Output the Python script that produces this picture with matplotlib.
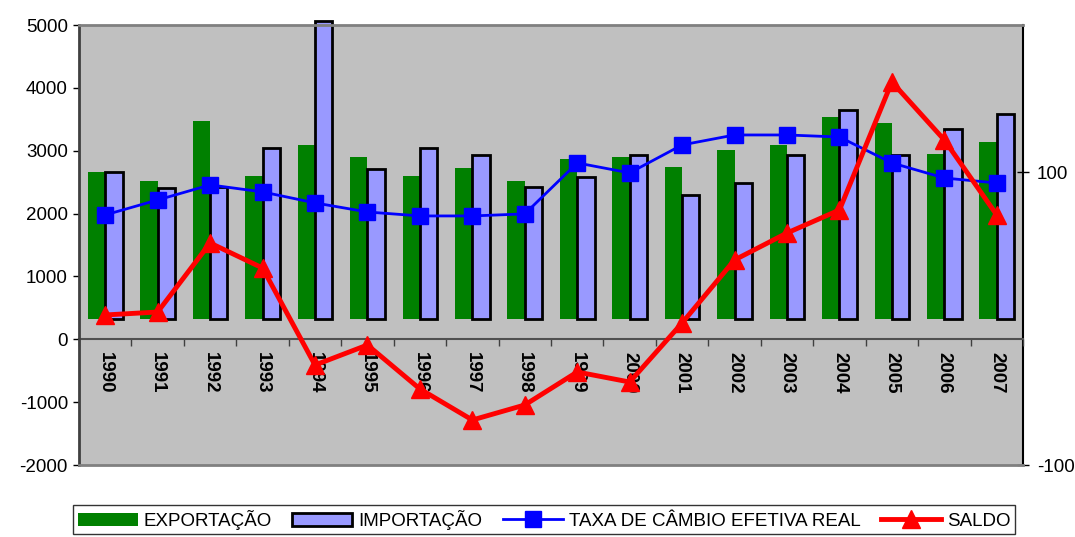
import numpy as np
import matplotlib.pyplot as plt

plt.rcParams['font.family'] = ['Liberation Sans', 'DejaVu Sans']
plt.rcParams['axes.unicode_minus'] = False

years = ['1990', '1991', '1992', '1993', '1994', '1995', '1996', '1997', '1998',
         '1999', '2000', '2001', '2002', '2003', '2004', '2005', '2006', '2007']

# indices (1990 = 100), right axis
exportacao = [100, 94, 135, 97.4, 118.6, 110.4, 97.4, 102.9, 94, 109,
              110.4, 103.6, 115.2, 118.6, 137.7, 133.6, 112.4, 120.6]
importacao = [100, 89.2, 89.9, 116.5, 203, 102.2, 116.5, 111.7, 89.9, 96.7,
              111.7, 84.4, 92.6, 111.7, 142.5, 111.7, 129.5, 139.7]
# real effective exchange rate (2000 = 100), right axis
taxa = [70.8, 81, 91.3, 86.5, 79, 72.8, 70.1, 70.1, 71.5, 106.3,
        99.5, 118.6, 125.4, 125.4, 124, 106.3, 96, 92.6]
# balance, left axis
saldo = [387, 434, 1532, 1134, -410, -91, -790, -1284, -1045, -520,
         -680, 260, 1262, 1691, 2057, 4094, 3171, 1977]

x = np.arange(len(years))

fig = plt.figure(figsize=(10.75, 5.37), dpi=100)
ax = fig.add_axes([79/1075, 1 - 465/537, (1023 - 79)/1075, (465 - 25)/537])
ax2 = ax.twinx()

ax.set_zorder(ax2.get_zorder() + 1)
ax.patch.set_visible(False)
ax2.patch.set_visible(True)
ax2.patch.set_facecolor('#c0c0c0')

w = 0.33
b1 = ax2.bar(x - w/2, exportacao, w, color='#008000', label='EXPORTAÇÃO', zorder=2)
b2 = ax2.bar(x + w/2, importacao, w, color='#9999ff', edgecolor='black',
             linewidth=2, label='IMPORTAÇÃO', zorder=3)
for p in b2:
    p.set_clip_on(False)
l1, = ax2.plot(x, taxa, color='#0000ff', lw=2, marker='s', markersize=11,
               label='TAXA DE CÂMBIO EFETIVA REAL', zorder=4)
l2, = ax.plot(x, saldo, color='#ff0000', lw=3.5, marker='^', markersize=13,
              label='SALDO', zorder=5)

ymin, ymax = -2000, 5000
ax.set_ylim(ymin, ymax)
ax.set_yticks(np.arange(-2000, 5001, 1000))
ax2.set_ylim(-100, 200.5)
ax2.set_yticks([-100, 100])
ax.set_xlim(-0.5, len(years) - 0.5)

ax.tick_params(axis='y', labelsize=13.5, length=4, width=1, direction='out', pad=4)
ax2.tick_params(axis='y', labelsize=13.5, length=8, width=1, direction='inout', pad=6)
ax.set_xticks([])

for s in ['top', 'bottom']:
    ax.spines[s].set_color('#808080')
    ax.spines[s].set_linewidth(2)
    ax2.spines[s].set_visible(False)
ax.spines['left'].set_color('#404040')
ax.spines['left'].set_linewidth(2)
ax.spines['right'].set_visible(False)
ax2.spines['left'].set_visible(False)
ax2.spines['right'].set_color('black')
ax2.spines['right'].set_linewidth(1.5)

# category axis crossing at saldo = 0
zero_frac = (0 - ymin) / (ymax - ymin)
sec = ax.secondary_xaxis(zero_frac)
sec.set_xticks(x, labels=years)
sec.set_xticks(np.arange(len(years) + 1) - 0.5, minor=True)
sec.tick_params(axis='x', which='major', length=0, pad=9, labelsize=13.5,
                labelrotation=270)
sec.tick_params(axis='x', which='minor', length=5, width=1, direction='out',
                color='#404040')
sec.spines['bottom'].set_color('#505050')
sec.spines['bottom'].set_linewidth(1.5)
for lab in sec.get_xticklabels():
    lab.set_fontweight('bold')
    lab.set_va('top')

leg = fig.legend([b1, b2, l1, l2],
                 ['EXPORTAÇÃO', 'IMPORTAÇÃO', 'TAXA DE CÂMBIO EFETIVA REAL', 'SALDO'],
                 loc='upper left', ncol=4,
                 bbox_to_anchor=(73/1075, 1 - 505/537 - 0.1, 942/1075, 0.1),
                 mode='expand', fontsize=13.5, frameon=True, fancybox=False,
                 edgecolor='black', handlelength=3.2, handletextpad=0.3,
                 columnspacing=0.6, borderpad=0.25, borderaxespad=0)
leg.get_frame().set_linewidth(1)

fig.savefig('out.png', dpi=100)
